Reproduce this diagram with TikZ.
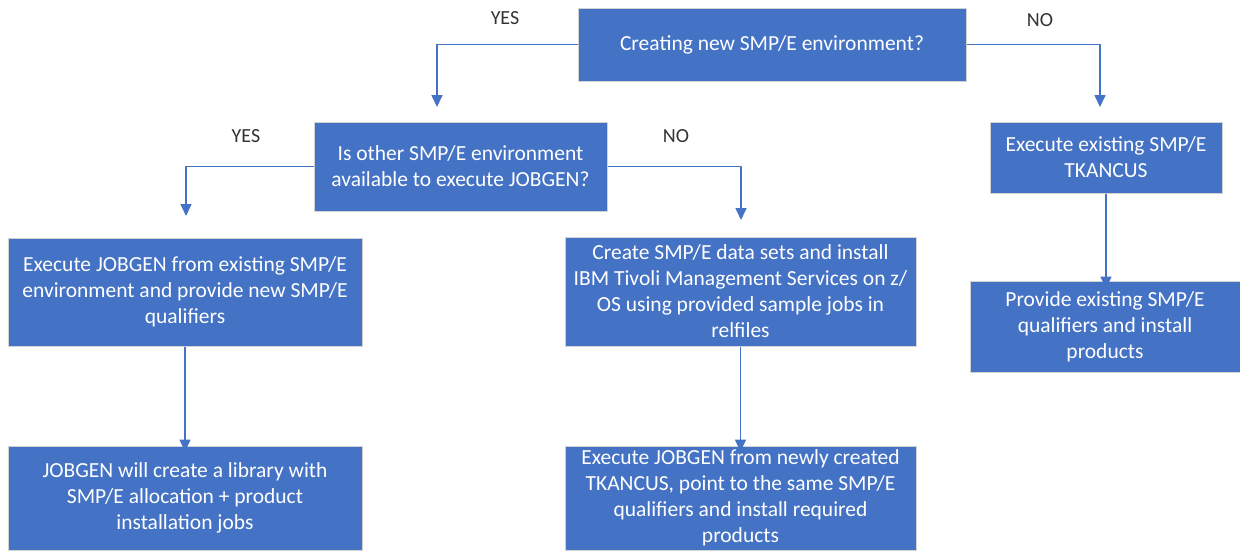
\documentclass[tikz,border=0pt]{standalone}
\usepackage{fontspec}
\setmainfont{Carlito}
\usetikzlibrary{arrows.meta}
\definecolor{boxblue}{HTML}{4472C4}
\begin{document}
\begin{tikzpicture}[x=1pt, y=-1pt, line join=round,
	box/.style={draw=gray!35, line width=1pt, fill=boxblue, text=white, align=center, inner sep=0pt,
		font=\fontsize{21.5}{26}\selectfont},
	arr/.style={draw=boxblue, line width=1.6pt, -{Triangle[width=11pt,length=12pt]}},
	lbl/.style={text=black!80, font=\fontsize{20}{22}\selectfont}]
	\useasboundingbox (0,0) rectangle (1240,550);
	% decisions
	\node[box, minimum width=388, minimum height=73] (start) at (772,44.5) {Creating new SMP/E environment?};
	\node[box, minimum width=293, minimum height=89] (other) at (460.5,166.5) {Is other SMP/E environment\\available to execute JOBGEN?};
	% steps
	\node[box, minimum width=232, minimum height=71] (tkancus) at (1106,157.5) {Execute existing SMP/E\\TKANCUS};
	\node[box, minimum width=270, minimum height=91] (provide) at (1105,326.5) {Provide existing SMP/E\\qualifiers and install\\products};
	\node[box, minimum width=354, minimum height=108] (jobgen) at (185,292) {Execute JOBGEN from existing SMP/E\\environment and provide new SMP/E\\qualifiers};
	\node[box, minimum width=354, minimum height=104] (library) at (185,498) {JOBGEN will create a library with\\SMP/E allocation + product\\installation jobs};
	\node[box, minimum width=351, minimum height=109] (create) at (740.5,291.5) {Create SMP/E data sets and install\\IBM Tivoli Management Services on z/\\OS using provided sample jobs in\\relfiles};
	\node[box, minimum width=351, minimum height=104] (newly) at (740.5,498) {Execute JOBGEN from newly created\\TKANCUS, point to the same SMP/E\\qualifiers and install required\\products};
	% free ends
	\coordinate (e1) at (437,107);
	\coordinate (e2) at (1100,107);
	\coordinate (e3) at (186,216);
	\coordinate (e4) at (741,220);
	% connectors
	\draw[arr] (start.west) -| (e1);
	\draw[arr] (start.east) -| (e2);
	\draw[arr] (other.west) -| (e3);
	\draw[arr] (other.east) -| (e4);
	\draw[arr] (tkancus.south) -- ([yshift=-8]tkancus.south |- provide.north);
	\draw[arr] (jobgen.south) -- ([yshift=-6]jobgen.south |- library.north);
	\draw[arr] (create.south) -- ([yshift=-6]create.south |- newly.north);
	% labels
	\node[lbl] (yes1) at (505,18) {YES};
	\node[lbl] (no1) at (1040,20) {NO};
	\node[lbl] (yes2) at (246,136) {YES};
	\node[lbl] (no2) at (676,136) {NO};
\end{tikzpicture}
\end{document}
